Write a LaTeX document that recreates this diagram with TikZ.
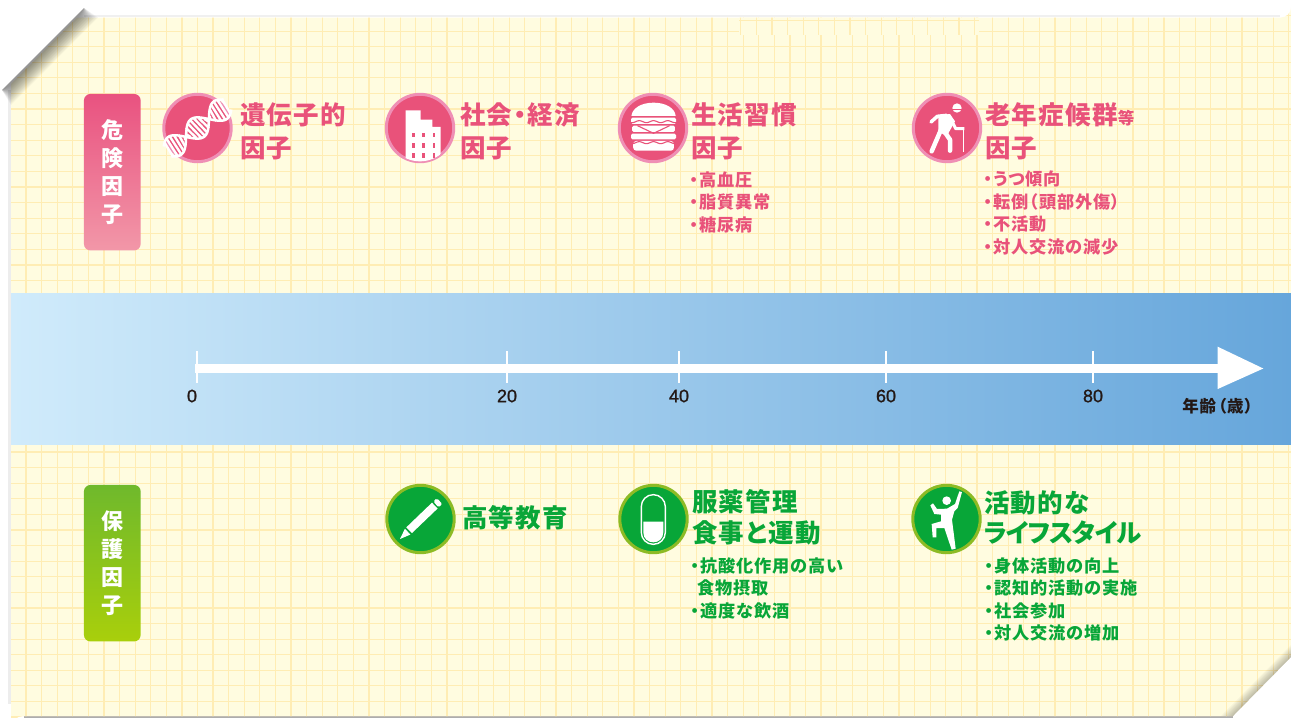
\documentclass[tikz,border=0pt]{standalone}
\usepackage{fontspec}
\newfontfamily\jpfont[LetterSpace=5,RawFeature={+palt}]{Noto Sans CJK JP}
\newfontfamily\jptight[LetterSpace=-4,RawFeature={+palt}]{Noto Sans CJK JP}
\newfontfamily\numfont[FakeBold=1.2]{Liberation Sans}
\definecolor{paperyellow}{HTML}{FFFCE0}
\definecolor{gridyellow}{HTML}{FFEDB4}
\definecolor{riskpink}{HTML}{E9527A}
\definecolor{riskring}{HTML}{EF8FB5}
\definecolor{risktop}{HTML}{E95280}
\definecolor{riskbottom}{HTML}{F297A8}
\definecolor{safegreen}{HTML}{08A638}
\definecolor{safering}{HTML}{8DBB25}
\definecolor{safetop}{HTML}{6FB92C}
\definecolor{safebottom}{HTML}{A9CF0B}
\definecolor{bandleft}{HTML}{D0EBFB}
\definecolor{bandright}{HTML}{66A6DB}
\definecolor{axisink}{HTML}{231815}
\def\paperpath{(77,17.5) -- (1281,17.5) arc (90:0:10) -- (1291,657) -- (1233,716) -- (23,716) arc (270:180:12) -- (11,84) -- cycle}
\tikzset{
  sidebox/.style={rectangle,rounded corners=6.5pt,minimum width=56.7pt,minimum height=156.5pt,inner sep=0pt,
    text=white,align=center,font=\jpfont\bfseries\fontsize{22}{28}\selectfont},
  riskicon/.style={circle,draw=riskring,fill=riskpink,line width=3pt,minimum size=67.4pt,inner sep=0pt},
  safeicon/.style={circle,draw=safering,fill=safegreen,line width=3pt,minimum size=67.4pt,inner sep=0pt},
  risktitle/.style={anchor=west,inner sep=0pt,align=left,text=riskpink,font=\jpfont\bfseries\fontsize{25.5}{33}\selectfont},
  safetitle/.style={anchor=west,inner sep=0pt,align=left,text=safegreen,font=\jpfont\bfseries\fontsize{25.5}{30.5}\selectfont},
  risklist/.style={anchor=west,inner sep=0pt,align=left,text=riskpink,font=\jpfont\bfseries\fontsize{17.2}{22.5}\selectfont},
  safelist/.style={anchor=west,inner sep=0pt,align=left,text=safegreen,font=\jpfont\bfseries\fontsize{17.2}{22.5}\selectfont},
  agelabel/.style={inner sep=0pt,text=axisink,font=\numfont\fontsize{18}{18}\selectfont},
  zoomed/.style={x=0.3333pt,y=-0.3333pt}
}
\begin{document}
\begin{tikzpicture}[x=1pt,y=-1pt]
  \useasboundingbox (0,0) rectangle (1291,718);
  \fill[white] (0,0) rectangle (1291,718);
  % sheet shadow
  \draw[black!7,line width=3pt] (9.5,90) -- (9.5,704);
  \draw[black!6,line width=2pt] (84,16) -- (1280,16);
  \draw[black!32,line width=2.5pt] (24,717) -- (1233,717);
  % sheet and squares
  \begin{scope}
    \clip \paperpath;
    \fill[paperyellow] (0,0) rectangle (1291,718);
    \foreach \k in {-1,...,81} {
      \draw[gridyellow,line width=1.2pt] ({26+15.59*\k},10) -- ({26+15.59*\k},718);
    }
    \foreach \k in {-2,...,43} {
      \draw[gridyellow,line width=1.2pt] (0,{46.7+15.59*\k}) -- (1291,{46.7+15.59*\k});
    }
    \fill[paperyellow] (739,17) rectangle (979,35);
    \draw[gridyellow,line width=1.2pt] (739,20.3) -- (979,20.3);
    \foreach \k in {0,...,15} {
      \draw[gridyellow,line width=1.2pt] ({740.8+15.59*\k},17) -- ({740.8+15.59*\k},35);
    }
  \end{scope}
  % folded corners
  \foreach \d in {1.5,3,...,21} {
    \fill[black,opacity=.034] (84,8) -- (2,90) -- (11,{84+\d}) -- ({77+\d},17.5) -- cycle;
  }
  \foreach \d in {1.5,3,...,12} {
    \fill[black,opacity=.03] (1291,657) -- (1233,716) -- ({1233-\d},716) -- (1291,{657-\d}) -- cycle;
  }
  % age band
  \shade[left color=bandleft,right color=bandright] (11,293) rectangle (1291,444);
  \coordinate (axisstart) at (195,368.5);
  \coordinate (axisend) at (1218,368.5);
  \draw[white,line width=9pt] (axisstart) -- (axisend);
  \fill[white] (1217.7,346.7) -- (1263.3,368.5) -- (1217.7,389) -- cycle;
  \foreach \x in {197.3,507,679,886,1093} {
    \draw[white,line width=2pt] (\x,351) -- (\x,383);
  }
  \node (age0) [agelabel] at (192,396) {0};
  \node (age20) [agelabel] at (507,396) {20};
  \node (age40) [agelabel] at (679,396) {40};
  \node (age60) [agelabel] at (886,396) {60};
  \node (age80) [agelabel] at (1093,396) {80};
  \node (ageunit) [inner sep=0pt,text=axisink,font=\jpfont\bfseries\fontsize{16.5}{16.5}\selectfont] at (1217.5,406) {年齢\hspace{2pt}（歳）};
  % side labels
  \node (riskbox) [sidebox,top color=risktop,bottom color=riskbottom] at (112.3,172.2) {危\\険\\因\\子};
  \node (safebox) [sidebox,top color=safetop,bottom color=safebottom] at (112.3,563.2) {保\\護\\因\\子};
  % risk factors
  \node (dnaicon) [riskicon] at (197.5,128) {};
  \node (cityicon) [riskicon] at (420,128) {};
  \node (foodicon) [riskicon] at (653,128) {};
  \node (eldericon) [riskicon] at (947,128) {};
  \node (dnatitle) [risktitle] at (240,131) {遺伝子的\\因子};
  \node (citytitle) [risktitle] at (460,131) {社会・経済\\因子};
  \node (foodtitle) [risktitle] at (691,131) {生活習慣\\因子};
  \node (eldertitle) [risktitle] at (985,131) {老年症候群{\fontsize{16.5}{16.5}\selectfont 等}\\因子};
  \node (foodlist) [risklist] at (690,202) {・高血圧\\・脂質異常\\・糖尿病};
  \node (elderlist) [risklist] at (984,213) {・うつ傾向\\・転倒（頭部外傷）\\・不活動\\・対人交流の減少};
  % protective factors
  \node (penicon) [safeicon] at (420.5,519) {};
  \node (pillicon) [safeicon] at (653.5,519) {};
  \node (climbicon) [safeicon] at (946.5,519) {};
  \node (pentitle) [safetitle] at (462,518) {高等教育};
  \node (pilltitle) [safetitle] at (692,517.5) {服薬管理\\食事と運動};
  \node (climbtitle) [safetitle] at (984,517.5) {活動的な\\{\jptight\bfseries ライフスタイル}};
  \node (pilllist) [safelist] at (691,588) {・抗酸化作用の高い\\\hspace*{6pt}食物摂取\\・適度な飲酒};
  \node (climblist) [safelist] at (985,599.5) {・身体活動の向上\\・認知的活動の実施\\・社会参加\\・対人交流の増加};
  % dna
  \begin{scope}[shift={(197.5,128)},rotate=38]
    \foreach \x in {-36,-32,...,36} {
      \draw[white,line width=2.4pt] ({\x-1},{-11*cos(\x*6.2)}) -- ({\x+1},{11*cos(\x*6.2)});
    }
    \draw[white,line width=2.5pt] plot[domain=-38:38,samples=50] (\x,{11*cos(\x*6.2)});
    \draw[white,line width=2.5pt] plot[domain=-38:38,samples=50] (\x,{-11*cos(\x*6.2)});
  \end{scope}
  % building
  \begin{scope}[shift={(380,88)},zoomed]
    \clip (120,120) circle [radius=100];
    \fill[white] (77,67) -- (122,67) -- (122,95) -- (157,95) -- (157,117) -- (182,117) -- (182,230) -- (77,230) -- cycle;
    \foreach \x in {101,131,162} {
      \foreach \y in {141,172,203} {
        \fill[riskpink] ({\x-4},{\y-7}) rectangle ({\x+4},{\y+7});
      }
    }
  \end{scope}
  % burger
  \begin{scope}[shift={(600,80)},x=0.3571pt,y=-0.3333pt]
    \fill[white] (88,108) .. controls (90,85) and (115,68) .. (150,68) .. controls (185,68) and (210,85) .. (212,108) -- cycle;
    \fill[white,rounded corners=1.5pt] (87,113) rectangle (213,132);
    \fill[white,rounded corners=1.5pt] (90,137) rectangle (210,156);
    \fill[white,rounded corners=1.5pt] (87,161) rectangle (213,178);
    \fill[white,rounded corners=3pt] (93,183) rectangle (207,212);
    \draw[riskpink,line width=1.1pt] plot[domain=85:215,samples=50] (\x,{125+3*sin(\x*9)});
    \draw[riskpink,line width=1.1pt] (105,137) -- (150,160) -- (195,137);
    \draw[riskpink,line width=1.1pt] plot[domain=85:215,samples=50] (\x,{188+3*sin(\x*9)});
  \end{scope}
  % elder with stick
  \begin{scope}[shift={(905,88)},zoomed]
    \fill[white] (156,60) circle [radius=14];
    \draw[riskpink,line width=1pt] (142,63) -- (170,63);
    \fill[white] (100,82) -- (135,78) -- (150,100) -- (125,145) -- (100,130) -- cycle;
    \draw[white,line width=3.5pt,line cap=round,line join=round] (78,102) -- (97,85) -- (125,82);
    \draw[white,line width=3pt,line join=round] (135,88) -- (152,122) -- (178,122);
    \draw[white,line width=4.5pt,line cap=round] (108,125) -- (80,190);
    \draw[white,line width=4.5pt,line cap=round,line join=round] (118,130) -- (135,155) -- (135,188);
    \draw[white,line width=1.3pt] (175,122) -- (175,193);
  \end{scope}
  % pencil
  \begin{scope}[shift={(370,470)},zoomed]
    \fill[white] (109,172) -- (186,98) -- (202.7,115.6) -- (125.7,189.4) -- cycle;
    \fill[white,rounded corners=1.5pt] (189.7,94.9) -- (200.5,84.6) -- (217,101.8) -- (206.3,112.1) -- cycle;
    \fill[white] (90,207) -- (104.7,176.4) -- (121.3,193.6) -- cycle;
  \end{scope}
  % capsule
  \begin{scope}[shift={(370,470)},zoomed]
    \fill[white] (820,155) -- (880,155) -- (880,187) .. controls (880,227) and (820,227) .. (820,187) -- cycle;
    \draw[white,line width=1.4pt,rounded corners=11.9pt] (814,74) rectangle (886,223);
  \end{scope}
  % climber
  \begin{scope}[shift={(905,478)},zoomed]
    \fill[white] (125,68) circle [radius=13];
    \fill[white] (126,92) -- (150,78) -- (163,40) -- (171,42) -- (158,90) -- (148,100) -- (141,125) -- (152,212) -- (140,215) -- (118,150) -- (94,150) -- (94,178) -- (83,178) -- (80,138) -- (108,130) -- (108,110) -- (88,108) -- (76,82) -- (84,76) -- (96,93) -- cycle;
  \end{scope}
\end{tikzpicture}
\end{document}
